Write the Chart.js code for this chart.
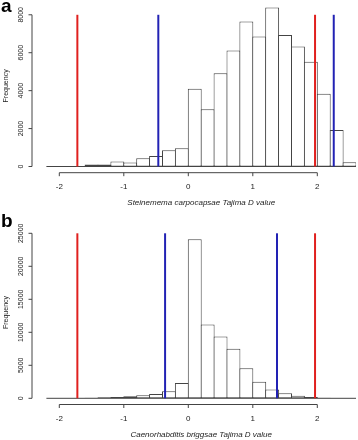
<!DOCTYPE html>
<html>
<head>
<meta charset="utf-8">
<script src="https://cdn.jsdelivr.net/npm/chart.js@4/dist/chart.umd.min.js"></script>
<style>
  html, body { margin: 0; padding: 0; background: #fff; }
  #wrap { position: relative; width: 358px; height: 440px; overflow: hidden; }
  canvas { position: absolute; left: 0; }
  #ca { top: 0; }
  #cb { top: 210px; }
</style>
</head>
<body>
<div id="wrap">
  <canvas id="ca" width="358" height="210"></canvas>
  <canvas id="cb" width="358" height="230"></canvas>
</div>
<script>
// ---- data ----
const binCenters = [-2.1, -1.9, -1.7, -1.5, -1.3, -1.1, -0.9, -0.7, -0.5, -0.3, -0.1,
                    0.1, 0.3, 0.5, 0.7, 0.9, 1.1, 1.3, 1.5, 1.7, 1.9, 2.1, 2.3, 2.5];
const binRange = [-2.2, 2.6];
const countsA = [10, 20, 30, 110, 100, 260, 210, 440, 560, 860, 960,
                 4100, 3020, 4920, 6120, 7650, 6850, 8380, 6940, 6330, 5520, 3830, 1920, 230];
const countsB = [10, 20, 40, 80, 150, 200, 300, 450, 650, 1050, 2300,
                 24100, 11200, 9350, 7500, 4550, 2500, 1350, 750, 400, 200, 100, 30, 5];
const redLinesA = [-1.72, 1.965];
const blueLinesA = [-0.465, 2.255];
const redLinesB = [-1.72, 1.965];
const blueLinesB = [-0.36, 1.375];
const xTicks = [-2, -1, 0, 1, 2];
const yTicksA = [0, 2000, 4000, 6000, 8000];
const yTicksB = [0, 5000, 10000, 15000, 20000, 25000];
const titleA = 'Steinemema carpocapsae Tajima D value';
const titleB = 'Caenorhabditis briggsae Tajima D value';
const yTitle = 'Frequency';

const RED = '#e0201e';
const BLUE = '#2222b4';
const EDGE = '#444444';
const FONT = '"Liberation Sans", Arial, Helvetica, sans-serif';

function vline(x, top, color) {
  return {
    type: 'line',
    data: [{x: x, y: 0}, {x: x, y: top}],
    borderColor: color,
    borderWidth: 2,
    pointRadius: 0,
    order: 0,
    clip: false
  };
}

function axesPlugin(cfg) {
  return {
    id: 'rAxes',
    afterDraw(chart) {
      const ctx = chart.ctx;
      const xs = chart.scales.x, ys = chart.scales.y;
      const area = chart.chartArea;
      const base = ys.getPixelForValue(0);
      ctx.save();
      ctx.strokeStyle = '#444';
      ctx.fillStyle = '#222';
      ctx.lineWidth = 1;
      // x axis
      const ay = base + 6.2;
      ctx.beginPath();
      ctx.moveTo(xs.getPixelForValue(xTicks[0]), ay);
      ctx.lineTo(xs.getPixelForValue(xTicks[xTicks.length - 1]), ay);
      xTicks.forEach(t => {
        const px = xs.getPixelForValue(t);
        ctx.moveTo(px, ay);
        ctx.lineTo(px, ay + 3.5);
      });
      ctx.stroke();
      ctx.font = '8px ' + FONT;
      ctx.textAlign = 'center';
      ctx.textBaseline = 'middle';
      xTicks.forEach(t => {
        ctx.fillText(String(t), xs.getPixelForValue(t), ay + 14);
      });
      ctx.font = 'italic 8px ' + FONT;
      ctx.fillText(cfg.title, (area.left + area.right) / 2, ay + 30);
      // y axis
      const axX = 32;
      const yt = cfg.yTicks;
      ctx.beginPath();
      ctx.moveTo(axX, ys.getPixelForValue(yt[0]));
      ctx.lineTo(axX, ys.getPixelForValue(yt[yt.length - 1]));
      yt.forEach(t => {
        const py = ys.getPixelForValue(t);
        ctx.moveTo(axX, py);
        ctx.lineTo(axX - 3.5, py);
      });
      ctx.stroke();
      ctx.font = '7px ' + FONT;
      yt.forEach(t => {
        const py = ys.getPixelForValue(t);
        ctx.save();
        ctx.translate(21, py);
        ctx.rotate(-Math.PI / 2);
        ctx.fillText(String(t), 0, 0);
        ctx.restore();
      });
      ctx.save();
      ctx.font = '7px ' + FONT;
      ctx.translate(6, (area.top + base) / 2);
      ctx.rotate(-Math.PI / 2);
      ctx.fillText(yTitle, 0, 0);
      ctx.restore();
      // panel letter
      ctx.font = 'bold 19px ' + FONT;
      ctx.textAlign = 'left';
      ctx.textBaseline = 'alphabetic';
      ctx.fillStyle = '#000';
      ctx.fillText(cfg.letter, 1, cfg.letterY);
      ctx.restore();
    }
  };
}

function makeChart(id, counts, reds, blues, yMax, lineTop, pad, cfg) {
  const datasets = [];
  reds.forEach(v => datasets.push(vline(v, lineTop, RED)));
  blues.forEach(v => datasets.push(vline(v, lineTop, BLUE)));
  // zero line along the bin range (bottom edges of near-empty bins)
  datasets.push({
    type: 'line',
    data: [{x: binRange[0], y: 0}, {x: binRange[1], y: 0}],
    borderColor: EDGE,
    borderWidth: 1,
    pointRadius: 0,
    order: 0.5,
    clip: false
  });
  datasets.push({
    type: 'bar',
    data: binCenters.map((c, i) => ({x: c, y: counts[i]})),
    backgroundColor: '#ffffff',
    borderColor: EDGE,
    borderWidth: 1,
    borderSkipped: false,
    inflateAmount: 0,
    barPercentage: 1.078,
    categoryPercentage: 1,
    order: 1
  });
  return new Chart(document.getElementById(id), {
    type: 'bar',
    data: { datasets: datasets },
    options: {
      responsive: false,
      animation: false,
      devicePixelRatio: 1,
      layout: { padding: pad },
      plugins: { legend: { display: false }, tooltip: { enabled: false } },
      scales: {
        x: { type: 'linear', min: binRange[0], max: binRange[1], offset: false, display: false },
        y: { type: 'linear', min: 0, max: yMax, display: false }
      }
    },
    plugins: [axesPlugin(cfg)]
  });
}

makeChart('ca', countsA, redLinesA, blueLinesA, 8500, 8000,
  {left: 46.4, right: 2, top: 5.3, bottom: 43.5},
  {title: titleA, yTicks: yTicksA, letter: 'a', letterY: 12});
makeChart('cb', countsB, redLinesB, blueLinesB, 26000, 25000,
  {left: 46.4, right: 2, top: 16.7, bottom: 41.7},
  {title: titleB, yTicks: yTicksB, letter: 'b', letterY: 16.7});
</script>
</body>
</html>
